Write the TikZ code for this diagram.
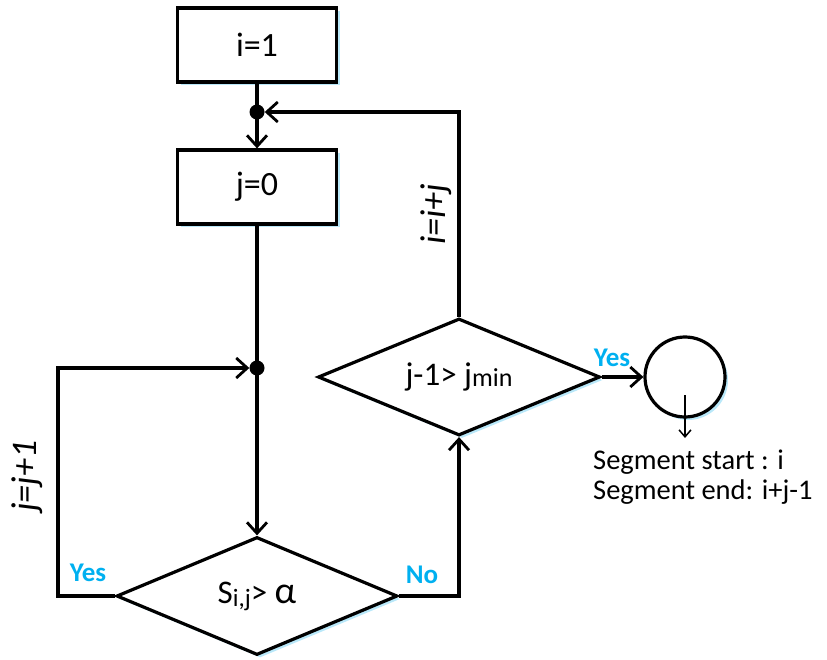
\documentclass[tikz,border=0pt]{standalone}
\usepackage{fontspec}
\setmainfont{Carlito}
\usetikzlibrary{shapes.geometric,shadows,arrows.meta}
\definecolor{lblblue}{HTML}{00B0F0}
\definecolor{shblue}{HTML}{A8E2F8}
\tikzset{
  flow/.style={line width=3.2pt},
  arr/.style={flow,-{Straight Barb[length=11pt,width=20pt,line width=2.8pt]}},
  glow/.style={drop shadow={shadow xshift=3pt,shadow yshift=-3pt,fill=shblue,opacity=0.8}},
  procbox/.style={draw,line width=3.2pt,fill=white,minimum width=159pt,minimum height=74pt,inner sep=0pt,glow,font=\fontsize{34}{40}\selectfont},
  decision/.style={draw,diamond,aspect=2.4,line width=3.2pt,fill=white,inner sep=0pt,glow,font=\fontsize{33}{38}\selectfont},
  junction/.style={circle,fill=black,inner sep=0pt,minimum size=15pt},
  yesno/.style={text=lblblue,font=\bfseries\fontsize{27}{30}\selectfont,inner sep=0pt},
  rotlbl/.style={rotate=90,font=\itshape\fontsize{36}{40}\selectfont,inner sep=0pt},
  segtxt/.style={font=\fontsize{28.5}{32}\selectfont,inner sep=0pt,anchor=base west}
}
\begin{document}
\begin{tikzpicture}[x=1pt,y=-1pt]
\useasboundingbox (0,0) rectangle (827,660);
\node[procbox] (b1) at (257,45) {i=1};
\node[procbox] (b2) at (257,187) {j=0};
\node[junction] (d1) at (257,112) {};
\node[junction] (d2) at (257,368) {};
\node[decision,minimum width=281pt,minimum height=118pt] (q1) at (257,596)
  {S{\fontsize{25}{28}\selectfont\raisebox{-3pt}{i,j}}> {\fontsize{38}{40}\selectfont α}};
\node[decision,minimum width=282pt,minimum height=117pt] (q2) at (459,377)
  {j-1> j{\fontsize{26}{28}\selectfont\raisebox{-1pt}{min}}};
\node[circle,draw,line width=3.2pt,fill=white,minimum size=80pt,inner sep=0pt,glow] (end) at (685,377) {};
\coordinate (c1) at (58,596);
\coordinate (c2) at (58,368);
\coordinate (c3) at (459,596);
\coordinate (c4) at (459,112);
\coordinate (ea) at (685,395);
\coordinate (eb) at (685,438);
% connectors
\draw[flow] (b1.south) -- (d1.center);
\draw[arr] (d1.center) -- (b2.north);
\draw[flow] (b2.south) -- (d2.center);
\draw[arr] (d2.center) -- (q1.north);
\draw[arr] (q1.west) -- (c1) -- (c2) -- (d2.west);
\draw[arr] (q1.east) -- (c3) -- (q2.south);
\draw[arr] (q2.north) -- (c4) -- (d1.east);
\draw[arr] (q2.east) -- (end.west);
\draw[line width=1.5pt,-{Straight Barb[length=7pt,width=12pt,line width=1.5pt]}] (ea) -- (eb);
% labels
\node[yesno] (y1) at (88,573) {Yes};
\node[yesno] (n1) at (422,575) {No};
\node[yesno] (y2) at (612,358) {Yes};
\node[rotlbl] (l1) at (27,476) {j=j+1};
\node[rotlbl] (l2) at (436,214) {i=i+j};
\node[segtxt] (s1) at (593,469) {Segment start : i};
\node[segtxt] (s2) at (593,499) {Segment end: i+j-1};
\end{tikzpicture}
\end{document}
